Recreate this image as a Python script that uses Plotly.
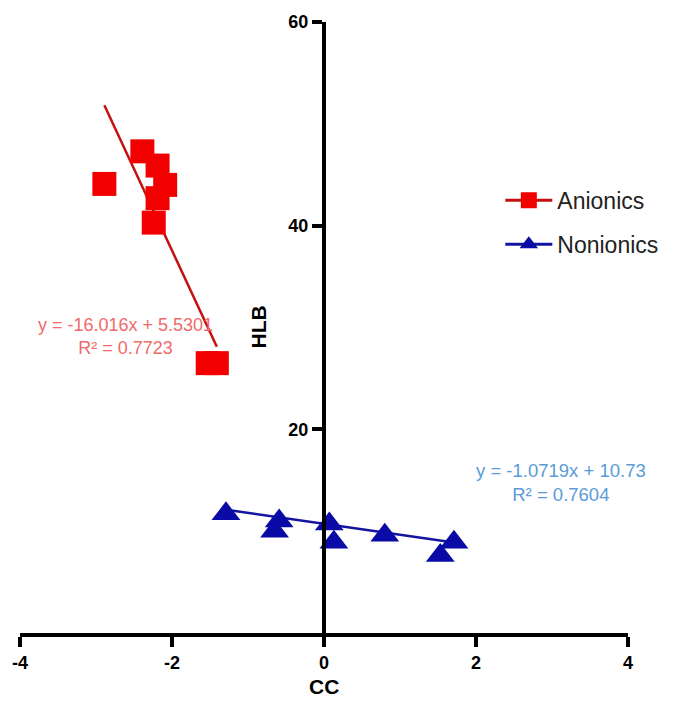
import plotly.graph_objects as go

# Anionic surfactants: critical-concentration index (CC) vs HLB
anionic_cc = [-2.89, -2.39, -2.19, -2.09, -2.19, -2.24, -1.53, -1.41]
anionic_hlb = [44.1, 47.3, 45.9, 44.0, 42.7, 40.3, 26.5, 26.5]

# Nonionic surfactants
nonionic_cc = [-1.29, -0.59, -0.65, 0.07, 0.13, 0.80, 1.53, 1.71]
nonionic_hlb = [11.7, 11.0, 10.0, 10.7, 8.9, 9.6, 7.6, 8.9]

# Linear fits (slope, intercept, R²)
anionic_fit = (-16.016, 5.5301, 0.7723)
nonionic_fit = (-1.0719, 10.73, 0.7604)

x_ticks = [-4, -2, 0, 2, 4]
y_ticks = [20, 40, 60]

RED = "#f20000"
RED_LINE = "#c41010"
BLUE = "#0a0aa6"
BLUE_LINE = "#1414a0"
FONT = "Liberation Sans, Arial, sans-serif"


def fit_line(xs, slope, intercept):
    lo, hi = min(xs), max(xs)
    return [lo, hi], [slope * lo + intercept, slope * hi + intercept]


fig = go.Figure()

# trend lines
ax, ay = fit_line(anionic_cc, anionic_fit[0], anionic_fit[1])
fig.add_trace(go.Scatter(x=ax, y=ay, mode="lines", line=dict(color=RED_LINE, width=2.5),
                         showlegend=False, hoverinfo="skip"))
nx, ny = fit_line(nonionic_cc, nonionic_fit[0], nonionic_fit[1])
fig.add_trace(go.Scatter(x=nx, y=ny, mode="lines", line=dict(color=BLUE_LINE, width=2.5),
                         showlegend=False, hoverinfo="skip"))

# data points
fig.add_trace(go.Scatter(x=anionic_cc, y=anionic_hlb, mode="markers", name="Anionics",
                         marker=dict(symbol="square", size=24, color=RED, line=dict(width=0)),
                         showlegend=False))
fig.add_trace(go.Scatter(x=nonionic_cc, y=nonionic_hlb, mode="markers", name="Nonionics",
                         marker=dict(symbol="triangle-up", size=25, color=BLUE, line=dict(width=0)),
                         showlegend=False))

# legend entries (line through marker)
fig.add_trace(go.Scatter(x=[None], y=[None], mode="lines+markers", name="Anionics",
                         legendgroup="a",
                         line=dict(color=RED_LINE, width=3),
                         marker=dict(symbol="square", size=24, color=RED)))
fig.add_trace(go.Scatter(x=[None], y=[None], mode="lines+markers", name="Nonionics",
                         legendgroup="b",
                         line=dict(color=BLUE_LINE, width=3),
                         marker=dict(symbol="triangle-up", size=25, color=BLUE)))


def eq_text(fit):
    slope, intercept, r2 = fit
    sign = "+" if intercept >= 0 else "-"
    return f"y = {slope:g}x {sign} {abs(intercept):g}<br>R² = {r2:g}"


fig.add_annotation(x=-2.61, y=29.1, xref="x", yref="y", text=eq_text(anionic_fit),
                   showarrow=False, font=dict(family=FONT, size=18, color="#f06a6a"),
                   align="center")
fig.add_annotation(x=3.12, y=14.75, xref="x", yref="y", text=eq_text(nonionic_fit),
                   showarrow=False, font=dict(family=FONT, size=18.5, color="#5a9bd8"),
                   align="center")

# axis titles
fig.add_annotation(x=0, y=0.5, xref="x", yref="paper", text="<b>HLB</b>", textangle=-90,
                   showarrow=False, xanchor="center", yanchor="middle", xshift=-66,
                   font=dict(family=FONT, size=21, color="black"))
fig.add_annotation(x=0, y=0, xref="x", yref="paper", text="<b>CC</b>",
                   showarrow=False, xanchor="center", yanchor="middle", yshift=-53,
                   font=dict(family=FONT, size=21, color="black"))

fig.update_layout(
    width=675, height=715,
    margin=dict(l=18, r=43, t=22, b=82),
    paper_bgcolor="white", plot_bgcolor="white",
    font=dict(family=FONT, color="black"),
    showlegend=True,
    legend=dict(x=0.79, y=0.672, xanchor="left", yanchor="middle",
                font=dict(family=FONT, size=23, color="#222222"),
                itemwidth=47, tracegroupgap=11, bgcolor="rgba(0,0,0,0)",
                traceorder="grouped"),
    xaxis=dict(range=[-4, 4], tickvals=x_ticks, ticktext=[f"<b>{v}</b>" for v in x_ticks],
               showline=True, linecolor="black", linewidth=4, mirror=False,
               ticks="outside", ticklen=10, tickwidth=4, tickcolor="black",
               tickfont=dict(family=FONT, size=18, color="black"),
               ticklabelstandoff=0,
               showgrid=False, zeroline=False),
    yaxis=dict(range=[0, 60], tickvals=y_ticks, ticktext=[f"<b>{v}</b>" for v in y_ticks],
               anchor="free", position=0.5,
               showline=True, linecolor="black", linewidth=4,
               ticks="outside", ticklen=10, tickwidth=4, tickcolor="black",
               tickfont=dict(family=FONT, size=18, color="black"),
               showgrid=False, zeroline=False),
)

fig.write_html("out.html")
